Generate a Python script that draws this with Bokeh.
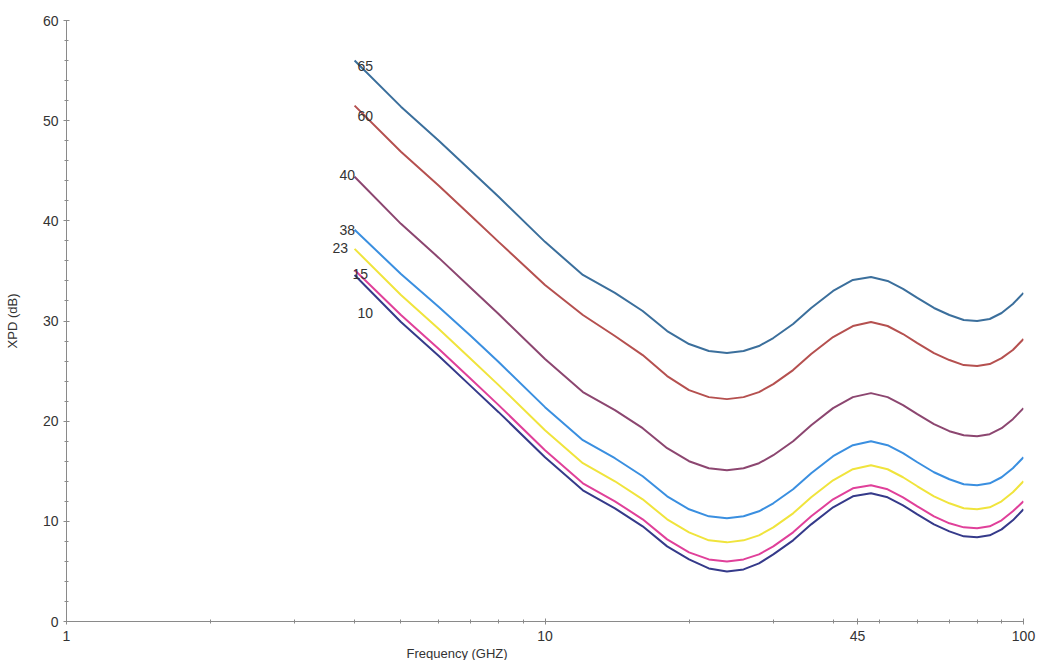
from bokeh.plotting import figure
from bokeh.models import FixedTicker, Title
from bokeh.core.properties import value
from bokeh.embed import file_html
from bokeh.resources import INLINE

# Frequency (GHz) sample points shared by every curve
freq = [4, 5, 6, 7, 8, 10, 12, 14, 16, 18, 20, 22, 24, 26, 28, 30, 33, 36, 40,
        44, 48, 52, 56, 60, 65, 70, 75, 80, 85, 90, 95, 100]

xpd_65 = [56.0, 51.4, 48.0, 45.0, 42.4, 37.9, 34.6, 32.8, 31.0, 29.0, 27.7, 27.0, 26.8, 27.0, 27.5, 28.3,
          29.7, 31.3, 33.0, 34.1, 34.4, 34.0, 33.2, 32.3, 31.3, 30.6, 30.1, 30.0, 30.2, 30.8, 31.7, 32.8]
xpd_60 = [51.5, 46.9, 43.5, 40.5, 37.9, 33.6, 30.6, 28.5, 26.6, 24.5, 23.1, 22.4, 22.2, 22.4, 22.9, 23.7,
          25.1, 26.7, 28.4, 29.5, 29.9, 29.5, 28.7, 27.8, 26.8, 26.1, 25.6, 25.5, 25.7, 26.3, 27.1, 28.2]
xpd_40 = [44.4, 39.7, 36.3, 33.3, 30.7, 26.2, 22.9, 21.1, 19.3, 17.3, 16.0, 15.3, 15.1, 15.3, 15.8, 16.6,
          18.0, 19.6, 21.3, 22.4, 22.8, 22.4, 21.6, 20.7, 19.7, 19.0, 18.6, 18.5, 18.7, 19.3, 20.2, 21.3]
xpd_38 = [39.1, 34.7, 31.4, 28.5, 25.9, 21.4, 18.1, 16.3, 14.5, 12.5, 11.2, 10.5, 10.3, 10.5, 11.0, 11.8,
          13.2, 14.8, 16.5, 17.6, 18.0, 17.6, 16.8, 15.9, 14.9, 14.2, 13.7, 13.6, 13.8, 14.4, 15.3, 16.4]
xpd_23 = [37.2, 32.6, 29.2, 26.2, 23.6, 19.1, 15.8, 14.0, 12.2, 10.2, 8.9, 8.1, 7.9, 8.1, 8.6, 9.4,
          10.8, 12.4, 14.1, 15.2, 15.6, 15.2, 14.4, 13.5, 12.5, 11.8, 11.3, 11.2, 11.4, 12.0, 12.9, 14.0]
xpd_15 = [35.1, 30.6, 27.2, 24.2, 21.6, 17.1, 13.8, 12.0, 10.2, 8.2, 6.9, 6.2, 6.0, 6.2, 6.7, 7.5,
          8.9, 10.5, 12.2, 13.3, 13.6, 13.2, 12.4, 11.5, 10.5, 9.8, 9.4, 9.3, 9.5, 10.1, 11.0, 12.0]
xpd_10 = [34.6, 29.9, 26.5, 23.5, 20.9, 16.4, 13.1, 11.3, 9.5, 7.5, 6.2, 5.3, 5.0, 5.2, 5.8, 6.7,
          8.1, 9.7, 11.4, 12.5, 12.8, 12.4, 11.6, 10.7, 9.7, 9.0, 8.5, 8.4, 8.6, 9.2, 10.1, 11.2]

curve_names = ["65", "60", "40", "38", "23", "15", "10"]
x_major_ticks = [1, 10, 45, 100]
x_tick_labels = ["1", "10", "45", "100"]
y_major_ticks = [0, 10, 20, 30, 40, 50, 60]

series = [xpd_65, xpd_60, xpd_40, xpd_38, xpd_23, xpd_15, xpd_10]
colors = ["#3b6f9c", "#b5504f", "#8c4670", "#3a8fe0", "#f0e43c", "#e0409a", "#353a8a"]
# label offsets (pixels) relative to each curve's first point (positive = down)
label_dx = [3, 3, -15, -15, -22, -2, 3]
label_dy = [5, 10, -2, 0, -1, 4, 38]

FONT = "Liberation Sans"

p = figure(width=1045, height=660, x_axis_type="log", x_range=(1, 100), y_range=(0, 60),
           output_backend="svg", toolbar_location=None,
           min_border_left=66, min_border_right=22, min_border_top=20, min_border_bottom=0)
p.outline_line_color = None
p.xgrid.visible = False
p.ygrid.visible = False
p.background_fill_color = "white"

for vals, col in zip(series, colors):
    p.line(freq, vals, line_color=col, line_width=2)

for name, vals, dx, dy in zip(curve_names, series, label_dx, label_dy):
    p.text(x=[freq[0]], y=[vals[0]], text=[name], x_offset=dx, y_offset=dy,
           text_font=value(FONT), text_font_size="14px", text_color="#333333",
           text_align="left", text_baseline="middle")

minor_x = [2, 3, 4, 5, 6, 7, 8, 9, 20, 30, 40, 50, 60, 70, 80, 90]
p.xaxis.ticker = FixedTicker(ticks=x_major_ticks, minor_ticks=minor_x)
p.xaxis.major_label_overrides = {t: l for t, l in zip(x_major_ticks, x_tick_labels)}
p.yaxis.ticker = FixedTicker(ticks=y_major_ticks, minor_ticks=list(range(0, 61, 2)))

for ax in (p.xaxis, p.yaxis):
    ax.axis_line_color = "#8a8a8a"
    ax.major_tick_line_color = "#8a8a8a"
    ax.minor_tick_line_color = "#8a8a8a"
    ax.major_tick_in = 3
    ax.major_tick_out = 3
    ax.minor_tick_in = 2
    ax.minor_tick_out = 2
    ax.major_label_text_font = FONT
    ax.major_label_text_font_size = "14px"
    ax.major_label_text_color = "#333333"

p.yaxis.axis_label = "XPD (dB)"
p.yaxis.axis_label_text_font = FONT
p.yaxis.axis_label_text_font_size = "13px"
p.yaxis.axis_label_text_font_style = "normal"
p.yaxis.axis_label_text_color = "#333333"
p.yaxis.axis_label_standoff = 20
p.xaxis.major_label_standoff = 6

xtitle = Title(text="Frequency (GHZ)", align="left", offset=340, standoff=0,
               text_font=FONT, text_font_size="13px", text_font_style="normal",
               text_color="#333333")
p.add_layout(xtitle, "below")

open("out.html", "w").write(file_html(p, INLINE))
